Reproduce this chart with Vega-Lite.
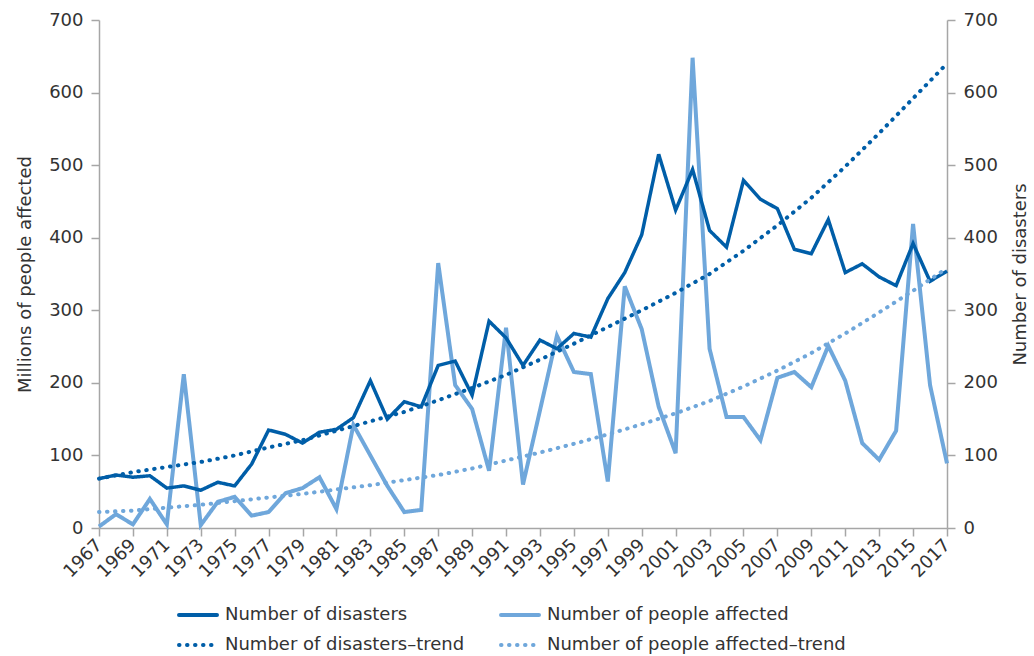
{
  "$schema": "https://vega.github.io/schema/vega-lite/v6.json",
  "width": 848,
  "height": 508,
  "autosize": {"type": "none"},
  "padding": {"left": 99, "top": 20, "right": 87, "bottom": 128},
  "background": "white",
  "config": {
    "font": "DejaVu Sans",
    "view": {"stroke": null},
    "axis": {
      "labelFont": "DejaVu Sans",
      "titleFont": "DejaVu Sans",
      "labelFontSize": 18,
      "titleFontSize": 18,
      "titleFontWeight": "normal",
      "labelColor": "#333333",
      "titleColor": "#333333",
      "domainColor": "#a6a6a6",
      "tickColor": "#a6a6a6",
      "domainWidth": 1.5,
      "tickWidth": 1.5,
      "tickSize": 8,
      "grid": false
    },
    "legend": {
      "labelFont": "DejaVu Sans",
      "labelFontSize": 18,
      "labelColor": "#333333",
      "labelLimit": 500
    }
  },
  "data": {
    "values": [
      {"year": 1967, "series": "Number of disasters", "value": 68},
      {"year": 1968, "series": "Number of disasters", "value": 73},
      {"year": 1969, "series": "Number of disasters", "value": 70},
      {"year": 1970, "series": "Number of disasters", "value": 72},
      {"year": 1971, "series": "Number of disasters", "value": 55},
      {"year": 1972, "series": "Number of disasters", "value": 58},
      {"year": 1973, "series": "Number of disasters", "value": 52},
      {"year": 1974, "series": "Number of disasters", "value": 63},
      {"year": 1975, "series": "Number of disasters", "value": 58},
      {"year": 1976, "series": "Number of disasters", "value": 88},
      {"year": 1977, "series": "Number of disasters", "value": 135},
      {"year": 1978, "series": "Number of disasters", "value": 129},
      {"year": 1979, "series": "Number of disasters", "value": 117},
      {"year": 1980, "series": "Number of disasters", "value": 132},
      {"year": 1981, "series": "Number of disasters", "value": 136},
      {"year": 1982, "series": "Number of disasters", "value": 152},
      {"year": 1983, "series": "Number of disasters", "value": 203},
      {"year": 1984, "series": "Number of disasters", "value": 150},
      {"year": 1985, "series": "Number of disasters", "value": 174},
      {"year": 1986, "series": "Number of disasters", "value": 167},
      {"year": 1987, "series": "Number of disasters", "value": 224},
      {"year": 1988, "series": "Number of disasters", "value": 230},
      {"year": 1989, "series": "Number of disasters", "value": 183},
      {"year": 1990, "series": "Number of disasters", "value": 285},
      {"year": 1991, "series": "Number of disasters", "value": 262},
      {"year": 1992, "series": "Number of disasters", "value": 224},
      {"year": 1993, "series": "Number of disasters", "value": 259},
      {"year": 1994, "series": "Number of disasters", "value": 247},
      {"year": 1995, "series": "Number of disasters", "value": 268},
      {"year": 1996, "series": "Number of disasters", "value": 263},
      {"year": 1997, "series": "Number of disasters", "value": 316},
      {"year": 1998, "series": "Number of disasters", "value": 352},
      {"year": 1999, "series": "Number of disasters", "value": 404},
      {"year": 2000, "series": "Number of disasters", "value": 515},
      {"year": 2001, "series": "Number of disasters", "value": 438},
      {"year": 2002, "series": "Number of disasters", "value": 494},
      {"year": 2003, "series": "Number of disasters", "value": 410},
      {"year": 2004, "series": "Number of disasters", "value": 387},
      {"year": 2005, "series": "Number of disasters", "value": 479},
      {"year": 2006, "series": "Number of disasters", "value": 453},
      {"year": 2007, "series": "Number of disasters", "value": 440},
      {"year": 2008, "series": "Number of disasters", "value": 384},
      {"year": 2009, "series": "Number of disasters", "value": 378},
      {"year": 2010, "series": "Number of disasters", "value": 425},
      {"year": 2011, "series": "Number of disasters", "value": 352},
      {"year": 2012, "series": "Number of disasters", "value": 364},
      {"year": 2013, "series": "Number of disasters", "value": 346},
      {"year": 2014, "series": "Number of disasters", "value": 334},
      {"year": 2015, "series": "Number of disasters", "value": 392},
      {"year": 2016, "series": "Number of disasters", "value": 340},
      {"year": 2017, "series": "Number of disasters", "value": 354},

      {"year": 1967, "series": "Number of people affected", "value": 2},
      {"year": 1968, "series": "Number of people affected", "value": 19},
      {"year": 1969, "series": "Number of people affected", "value": 5},
      {"year": 1970, "series": "Number of people affected", "value": 40},
      {"year": 1971, "series": "Number of people affected", "value": 5},
      {"year": 1972, "series": "Number of people affected", "value": 212},
      {"year": 1973, "series": "Number of people affected", "value": 4},
      {"year": 1974, "series": "Number of people affected", "value": 36},
      {"year": 1975, "series": "Number of people affected", "value": 43},
      {"year": 1976, "series": "Number of people affected", "value": 17},
      {"year": 1977, "series": "Number of people affected", "value": 22},
      {"year": 1978, "series": "Number of people affected", "value": 48},
      {"year": 1979, "series": "Number of people affected", "value": 55},
      {"year": 1980, "series": "Number of people affected", "value": 70},
      {"year": 1981, "series": "Number of people affected", "value": 26},
      {"year": 1982, "series": "Number of people affected", "value": 142},
      {"year": 1983, "series": "Number of people affected", "value": 100},
      {"year": 1984, "series": "Number of people affected", "value": 58},
      {"year": 1985, "series": "Number of people affected", "value": 22},
      {"year": 1986, "series": "Number of people affected", "value": 25},
      {"year": 1987, "series": "Number of people affected", "value": 365},
      {"year": 1988, "series": "Number of people affected", "value": 197},
      {"year": 1989, "series": "Number of people affected", "value": 164},
      {"year": 1990, "series": "Number of people affected", "value": 79},
      {"year": 1991, "series": "Number of people affected", "value": 276},
      {"year": 1992, "series": "Number of people affected", "value": 60},
      {"year": 1993, "series": "Number of people affected", "value": 162},
      {"year": 1994, "series": "Number of people affected", "value": 265},
      {"year": 1995, "series": "Number of people affected", "value": 215},
      {"year": 1996, "series": "Number of people affected", "value": 212},
      {"year": 1997, "series": "Number of people affected", "value": 64},
      {"year": 1998, "series": "Number of people affected", "value": 333},
      {"year": 1999, "series": "Number of people affected", "value": 274},
      {"year": 2000, "series": "Number of people affected", "value": 167},
      {"year": 2001, "series": "Number of people affected", "value": 103},
      {"year": 2002, "series": "Number of people affected", "value": 648},
      {"year": 2003, "series": "Number of people affected", "value": 247},
      {"year": 2004, "series": "Number of people affected", "value": 153},
      {"year": 2005, "series": "Number of people affected", "value": 153},
      {"year": 2006, "series": "Number of people affected", "value": 121},
      {"year": 2007, "series": "Number of people affected", "value": 207},
      {"year": 2008, "series": "Number of people affected", "value": 215},
      {"year": 2009, "series": "Number of people affected", "value": 194},
      {"year": 2010, "series": "Number of people affected", "value": 251},
      {"year": 2011, "series": "Number of people affected", "value": 203},
      {"year": 2012, "series": "Number of people affected", "value": 117},
      {"year": 2013, "series": "Number of people affected", "value": 94},
      {"year": 2014, "series": "Number of people affected", "value": 134},
      {"year": 2015, "series": "Number of people affected", "value": 419},
      {"year": 2016, "series": "Number of people affected", "value": 197},
      {"year": 2017, "series": "Number of people affected", "value": 89},

      {"year": 1967, "series": "Number of disasters–trend", "value": 68},
      {"year": 1969, "series": "Number of disasters–trend", "value": 77},
      {"year": 1971, "series": "Number of disasters–trend", "value": 84},
      {"year": 1973, "series": "Number of disasters–trend", "value": 91},
      {"year": 1975, "series": "Number of disasters–trend", "value": 100},
      {"year": 1977, "series": "Number of disasters–trend", "value": 111},
      {"year": 1979, "series": "Number of disasters–trend", "value": 121},
      {"year": 1981, "series": "Number of disasters–trend", "value": 134},
      {"year": 1983, "series": "Number of disasters–trend", "value": 147},
      {"year": 1985, "series": "Number of disasters–trend", "value": 160},
      {"year": 1987, "series": "Number of disasters–trend", "value": 176},
      {"year": 1989, "series": "Number of disasters–trend", "value": 193},
      {"year": 1991, "series": "Number of disasters–trend", "value": 211},
      {"year": 1993, "series": "Number of disasters–trend", "value": 232},
      {"year": 1995, "series": "Number of disasters–trend", "value": 254},
      {"year": 1997, "series": "Number of disasters–trend", "value": 277},
      {"year": 1999, "series": "Number of disasters–trend", "value": 300},
      {"year": 2001, "series": "Number of disasters–trend", "value": 324},
      {"year": 2003, "series": "Number of disasters–trend", "value": 350},
      {"year": 2005, "series": "Number of disasters–trend", "value": 382},
      {"year": 2007, "series": "Number of disasters–trend", "value": 417},
      {"year": 2009, "series": "Number of disasters–trend", "value": 455},
      {"year": 2011, "series": "Number of disasters–trend", "value": 498},
      {"year": 2013, "series": "Number of disasters–trend", "value": 544},
      {"year": 2015, "series": "Number of disasters–trend", "value": 592},
      {"year": 2017, "series": "Number of disasters–trend", "value": 640},

      {"year": 1967, "series": "Number of people affected–trend", "value": 22},
      {"year": 1969, "series": "Number of people affected–trend", "value": 24},
      {"year": 1971, "series": "Number of people affected–trend", "value": 28},
      {"year": 1973, "series": "Number of people affected–trend", "value": 32},
      {"year": 1975, "series": "Number of people affected–trend", "value": 37},
      {"year": 1977, "series": "Number of people affected–trend", "value": 42},
      {"year": 1979, "series": "Number of people affected–trend", "value": 47},
      {"year": 1981, "series": "Number of people affected–trend", "value": 53},
      {"year": 1983, "series": "Number of people affected–trend", "value": 59},
      {"year": 1985, "series": "Number of people affected–trend", "value": 66},
      {"year": 1987, "series": "Number of people affected–trend", "value": 73},
      {"year": 1989, "series": "Number of people affected–trend", "value": 82},
      {"year": 1991, "series": "Number of people affected–trend", "value": 93},
      {"year": 1993, "series": "Number of people affected–trend", "value": 104},
      {"year": 1995, "series": "Number of people affected–trend", "value": 116},
      {"year": 1997, "series": "Number of people affected–trend", "value": 129},
      {"year": 1999, "series": "Number of people affected–trend", "value": 143},
      {"year": 2001, "series": "Number of people affected–trend", "value": 158},
      {"year": 2003, "series": "Number of people affected–trend", "value": 175},
      {"year": 2005, "series": "Number of people affected–trend", "value": 195},
      {"year": 2007, "series": "Number of people affected–trend", "value": 217},
      {"year": 2009, "series": "Number of people affected–trend", "value": 241},
      {"year": 2011, "series": "Number of people affected–trend", "value": 268},
      {"year": 2013, "series": "Number of people affected–trend", "value": 297},
      {"year": 2015, "series": "Number of people affected–trend", "value": 327},
      {"year": 2017, "series": "Number of people affected–trend", "value": 358}
    ]
  },
  "encoding": {
    "x": {
      "field": "year",
      "type": "quantitative",
      "scale": {"domain": [1967, 2017], "nice": false, "zero": false},
      "axis": {
        "title": null,
        "values": [1967, 1969, 1971, 1973, 1975, 1977, 1979, 1981, 1983, 1985, 1987, 1989, 1991, 1993, 1995, 1997, 1999, 2001, 2003, 2005, 2007, 2009, 2011, 2013, 2015, 2017],
        "format": "d",
        "labelAngle": -45,
        "labelAlign": "right",
        "labelBaseline": "middle",
        "labelPadding": 6,
        "labelOverlap": false,
        "labelFlush": false
      }
    },
    "color": {
      "field": "series",
      "type": "nominal",
      "sort": ["Number of disasters", "Number of people affected", "Number of disasters–trend", "Number of people affected–trend"],
      "scale": {
        "domain": ["Number of disasters", "Number of people affected", "Number of disasters–trend", "Number of people affected–trend"],
        "range": ["#005ea8", "#6fa7db", "#005ea8", "#6fa7db"]
      },
      "legend": {
        "title": null,
        "orient": "none",
        "direction": "horizontal",
        "legendX": 78,
        "legendY": 574,
        "columns": 2,
        "columnPadding": 28,
        "rowPadding": -5,
        "symbolType": "stroke",
        "symbolSize": 1444,
        "symbolStrokeWidth": 4,
        "labelOffset": 6,
        "values": ["Number of disasters", "Number of people affected", "Number of disasters–trend", "Number of people affected–trend"],
        "encode": {"symbols": {"update": {"strokeCap": {"value": "round"}}}}
      }
    },
    "strokeDash": {
      "field": "series",
      "type": "nominal",
      "sort": ["Number of disasters", "Number of people affected", "Number of disasters–trend", "Number of people affected–trend"],
      "scale": {
        "domain": ["Number of disasters", "Number of people affected", "Number of disasters–trend", "Number of people affected–trend"],
        "range": [[1, 0], [1, 0], [0.5, 7.5], [0.5, 7.5]]
      },
      "legend": {
        "title": null,
        "orient": "none",
        "direction": "horizontal",
        "legendX": 78,
        "legendY": 574,
        "columns": 2,
        "columnPadding": 28,
        "rowPadding": -5,
        "symbolType": "stroke",
        "symbolSize": 1444,
        "symbolStrokeWidth": 4,
        "labelOffset": 6,
        "values": ["Number of disasters", "Number of people affected", "Number of disasters–trend", "Number of people affected–trend"],
        "encode": {"symbols": {"update": {"strokeCap": {"value": "round"}}}}
      }
    }
  },
  "layer": [
    {
      "transform": [{"filter": {"field": "series", "equal": "Number of people affected"}}],
      "mark": {"type": "line", "strokeWidth": 4, "strokeJoin": "miter"},
      "encoding": {
        "y": {
          "field": "value",
          "type": "quantitative",
          "scale": {"domain": [0, 700], "nice": false},
          "axis": {
            "orient": "left",
            "title": "Millions of people affected",
            "values": [0, 100, 200, 300, 400, 500, 600, 700],
            "labelPadding": 8,
            "titlePadding": 14
          }
        }
      }
    },
    {
      "transform": [{"filter": {"field": "series", "equal": "Number of disasters"}}],
      "mark": {"type": "line", "strokeWidth": 3.5, "strokeJoin": "miter"},
      "encoding": {
        "y": {
          "field": "value",
          "type": "quantitative",
          "scale": {"domain": [0, 700], "nice": false},
          "axis": {
            "orient": "right",
            "title": "Number of disasters",
            "titleAngle": -90,
            "titleBaseline": "top",
            "values": [0, 100, 200, 300, 400, 500, 600, 700],
            "labelPadding": 8,
            "titlePadding": 14
          }
        }
      }
    },
    {
      "transform": [{"filter": {"field": "series", "oneOf": ["Number of disasters–trend", "Number of people affected–trend"]}}],
      "mark": {"type": "line", "strokeWidth": 4, "strokeCap": "round"},
      "encoding": {
        "y": {
          "field": "value",
          "type": "quantitative",
          "scale": {"domain": [0, 700], "nice": false},
          "axis": null
        }
      }
    }
  ],
  "resolve": {"axis": {"y": "independent"}}
}
